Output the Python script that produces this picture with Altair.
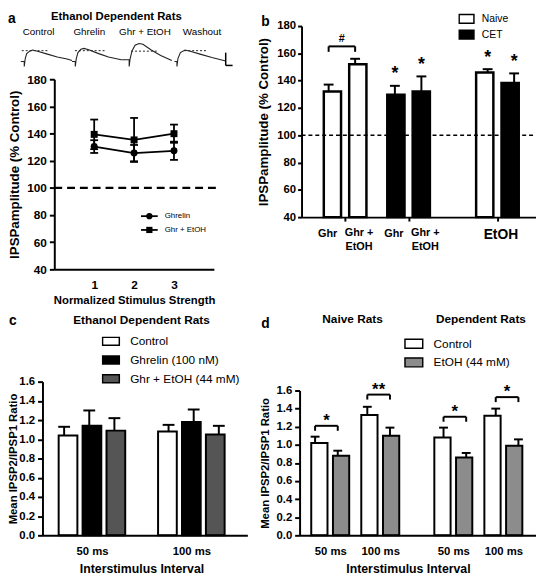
import json
import altair as alt
import pandas as pd

FONT = "Liberation Sans"
W, H = 536, 569

# ======================= DATA =======================
# (a) example IPSP traces: time (ms-like units) and amplitude (arbitrary units)
trace_names = ["Control", "Ghrelin", "Ghr + EtOH", "Washout"]
trace_t = [
    [0, 3.5, 3.5, 4.5, 6, 9, 12, 17, 27, 37, 47, 52],
    [0, 3.3, 3.3, 4.3, 6, 9, 12, 17, 27, 37, 50],
    [0, 8, 8, 9, 11, 14, 18, 22, 30, 40, 51.3],
    [0, 2.5, 2.5, 3.5, 6, 10.7, 16, 26, 38, 52],
]
trace_v = [
    [7, 7, 2, 10, 15, 17.5, 18.7, 17.5, 14.5, 11.5, 9.5, 8],
    [7, 7, 2, 10, 16, 19.5, 20.3, 19, 15, 11.5, 8.7],
    [8.7, 8.7, 2, 10, 18, 23.5, 25.3, 24.5, 19, 13, 8],
    [7, 7, 2, 10, 16, 18.7, 17.5, 14.5, 11, 7.5],
]
trace_ref_level = [18, 18, 17.5, 18]
trace_ref_t = [[1, 27], [3, 35], [10, 37], [10, 33]]
scalebar_t = [52, 59]
scalebar_v = [3, 16]

# (a) IPSP amplitude vs normalized stimulus strength
a_strength = [1, 2, 3]
a_series = ["Ghrelin", "Ghr + EtOH"]
a_mean = [[130.4, 125.6, 127.3], [139.4, 135.3, 139.9]]
a_sem = [[4.7, 6.0, 6.7], [10.9, 16.2, 6.7]]
a_ref = 100
a_yticks = [40, 60, 80, 100, 120, 140, 160, 180]

# (b) IPSP amplitude, naive vs CET
b_groups = ["Naive", "CET"]
b_bar_label = ["Ghr", "Ghr +\nEtOH", "Ghr", "Ghr +\nEtOH", "EtOH", "EtOH"]
b_bar_group = ["Naive", "Naive", "CET", "CET", "Naive", "CET"]
b_mean = [132.1, 152.0, 129.7, 132.1, 146.0, 138.3]
b_sem = [5.0, 4.0, 6.5, 11.0, 2.4, 7.0]
b_star = ["", "", "*", "*", "*", "*"]
b_hash = "#"
b_hash_top = 165.1
b_hash_leg = 161.1

# (c) paired-pulse ratio, dependent rats
c_intervals = ["50 ms", "100 ms"]
c_conditions = ["Control", "Ghrelin (100 nM)", "Ghr + EtOH (44 mM)"]
c_mean = [[1.04, 1.08], [1.14, 1.18], [1.09, 1.05]]
c_sem = [[0.09, 0.07], [0.16, 0.13], [0.13, 0.09]]
c_yticks = [0.0, 0.2, 0.4, 0.6, 0.8, 1.0, 1.2, 1.4, 1.6]

# (d) paired-pulse ratio, naive vs dependent
d_rats = ["Naive Rats", "Dependent Rats"]
d_intervals = ["50 ms", "100 ms"]
d_treat = ["Control", "EtOH (44 mM)"]
d_mean = [[1.02, 1.33, 1.08, 1.32], [0.88, 1.10, 0.86, 0.99]]
d_sem = [[0.07, 0.09, 0.11, 0.08], [0.055, 0.09, 0.05, 0.07]]
d_sig = ["*", "**", "*", "*"]
d_bracket = [1.21, 1.555, 1.31, 1.527]
d_bracket_leg = 0.055

# ======================= LAYOUT =======================
TRACE_X0 = [18, 70, 120, 174]
TRACE_LABEL_DX = [18, 17.5, 24, 28]
B_POS = [0, 1, 2.5, 3.5, 6, 7]
C_STEP = 0.2406
D_RAT_GAP = 2.46
D_STEP = 0.217

AX = dict(domainColor="black", domainWidth=2, tickColor="black", tickWidth=2,
          labelColor="black", labelFont=FONT, labelFontWeight="bold", grid=False,
          titleFont=FONT, titleFontWeight="bold", titleColor="black",
          labelFlush=False, labelOverlap=False, zindex=2)

charts = []


def scales(xdom, xr, ydom, yr):
    sx = dict(domain=xdom, range=xr, nice=False, zero=False)
    sy = dict(domain=ydom, range=yr, nice=False, zero=False)
    X = lambda f, axis=None: alt.X(f, scale=alt.Scale(**sx), axis=axis)
    Y = lambda f, axis=None: alt.Y(f, scale=alt.Scale(**sy), axis=axis)
    return X, Y


def txt(text, x, y, size, weight="bold", align="center", baseline="middle"):
    return alt.Chart(pd.DataFrame({"t": [text]})).mark_text(
        font=FONT, fontSize=size, fontWeight=weight, align=align, baseline=baseline, color="black"
    ).encode(x=alt.value(x), y=alt.value(y), text="t:N")


# ---------------- traces ----------------
rows = []
for name, x0, ts, vs in zip(trace_names, TRACE_X0, trace_t, trace_v):
    for i, (t, v) in enumerate(zip(ts, vs)):
        rows.append({"cond": name, "x": x0 + t, "v": v, "i": i})
tr = pd.DataFrame(rows)
tr_ref = pd.DataFrame({
    "x": [x0 + s[0] for x0, s in zip(TRACE_X0, trace_ref_t)],
    "x2": [x0 + s[1] for x0, s in zip(TRACE_X0, trace_ref_t)],
    "v": trace_ref_level,
})
tr_lab = pd.DataFrame({"cond": trace_names, "x": [x0 + d for x0, d in zip(TRACE_X0, TRACE_LABEL_DX)]})
sb_v = pd.DataFrame({"x": [TRACE_X0[3] + scalebar_t[0]], "v": [scalebar_v[0]], "v2": [scalebar_v[1]]})
sb_h = pd.DataFrame({"x": [TRACE_X0[3] + scalebar_t[0]], "x2": [TRACE_X0[3] + scalebar_t[1]], "v": [scalebar_v[0]]})

TX, TY = scales([0, 240], [-5, 235], [0, 30], [57, 27])
charts += [
    alt.Chart(tr).mark_line(color="#222222", strokeWidth=1.1).encode(
        x=TX("x:Q"), y=TY("v:Q"), detail="cond:N", order="i:Q"),
    alt.Chart(tr_ref).mark_rule(color="#222222", strokeWidth=1, strokeDash=[2, 2]).encode(
        x=TX("x:Q"), x2="x2:Q", y=TY("v:Q")),
    alt.Chart(sb_v).mark_rule(color="black", strokeWidth=1.5).encode(x=TX("x:Q"), y=TY("v:Q"), y2="v2:Q"),
    alt.Chart(sb_h).mark_rule(color="black", strokeWidth=1.5).encode(x=TX("x:Q"), x2="x2:Q", y=TY("v:Q")),
    alt.Chart(tr_lab).mark_text(font=FONT, fontSize=10, color="black").encode(
        x=TX("x:Q"), y=alt.value(20.5), text="cond:N"),
]

# ---------------- panel a ----------------
rows = []
for s, means, sems in zip(a_series, a_mean, a_sem):
    for x, m, e in zip(a_strength, means, sems):
        rows.append({"series": s, "x": x, "mean": m, "lo": m - e, "hi": m + e})
a_df = pd.DataFrame(rows)
AXX, AYY = scales([0, 4], [47, 209], [40, 180], [261, 68])
a_xaxis = alt.Axis(orient="bottom", offset=261 - H, values=a_strength, format="d", tickSize=0,
                   labelPadding=10, labelFontSize=12, title="Normalized Stimulus Strength",
                   titleFontSize=11.5, titleY=32, titleBaseline="middle", **AX)
a_yaxis = alt.Axis(orient="left", offset=-47, values=a_yticks, format="d", tickSize=5,
                   labelPadding=3, labelFontSize=12, title="IPSPamplitude (% Control)",
                   titleFontSize=13.5, titleX=-40, titleBaseline="middle", **AX)
a_dash = pd.DataFrame({"x0": [0], "x1": [4.05], "y": [a_ref]})
shape_sc = dict(domain=a_series, range=["circle", "square"])
charts += [
    alt.Chart(a_dash).mark_rule(color="black", strokeWidth=2.5, strokeDash=[8, 5]).encode(
        x=AXX("x0:Q", a_xaxis), x2="x1:Q", y=AYY("y:Q", a_yaxis)),
    alt.Chart(a_df).mark_rule(color="black", strokeWidth=1.8).encode(
        x=AXX("x:Q"), y=AYY("lo:Q"), y2="hi:Q"),
    alt.Chart(a_df).mark_tick(orient="horizontal", size=8, thickness=1.8, color="black", opacity=1).encode(
        x=AXX("x:Q"), y=AYY("lo:Q")),
    alt.Chart(a_df).mark_tick(orient="horizontal", size=8, thickness=1.8, color="black", opacity=1).encode(
        x=AXX("x:Q"), y=AYY("hi:Q")),
    alt.Chart(a_df).mark_line(color="black", strokeWidth=1.8).encode(
        x=AXX("x:Q"), y=AYY("mean:Q"), detail="series:N"),
    alt.Chart(a_df).mark_point(filled=True, color="black", opacity=1, size=50).encode(
        x=AXX("x:Q"), y=AYY("mean:Q"),
        shape=alt.Shape("series:N", scale=alt.Scale(**shape_sc), legend=None)),
]

leg_a_df = pd.DataFrame({"series": a_series})
ly = lambda: alt.Y("series:N", scale=alt.Scale(type="point", domain=a_series, range=[207, 221], padding=0),
                   axis=None)
charts += [
    alt.Chart(leg_a_df).mark_rule(color="black", strokeWidth=1.8).encode(
        x=alt.value(135), x2=alt.value(152), y=ly()),
    alt.Chart(leg_a_df).mark_point(filled=True, color="black", opacity=1, size=40).encode(
        x=alt.value(143.5), y=ly(), shape=alt.Shape("series:N", scale=alt.Scale(**shape_sc), legend=None)),
    alt.Chart(leg_a_df).mark_text(font=FONT, fontSize=8, align="left", color="black").encode(
        x=alt.value(159), y=ly(), text="series:N"),
]

# ---------------- panel b ----------------
b_df = pd.DataFrame({"label": b_bar_label, "group": b_bar_group, "mean": b_mean,
                     "sem": b_sem, "star": b_star, "pos": B_POS})
b_df["top"] = b_df["mean"] + b_df["sem"]
b_df["star_y"] = b_df["top"] + 4.8
BX, BY = scales([-1.022, 7.825], [298, 536], [40, 180], [208, 14])
b_xaxis = alt.Axis(orient="bottom", offset=208 - H, values=[0.5, 3, 6.5], labels=False, tickSize=4,
                   title=None, **AX)
b_yaxis = alt.Axis(orient="left", offset=-298, values=a_yticks, format="d", tickSize=4,
                   labelPadding=2, labelFontSize=11.5, title="IPSPamplitude (% Control)",
                   titleFontSize=13.5, titleX=-39, titleBaseline="middle", **AX)
b_leg = alt.Legend(orient="none", legendX=457, legendY=-1.3, title=None, direction="vertical",
                   symbolType="M-1,-0.6H1V0.6H-1Z", symbolSize=225, symbolStrokeColor="black",
                   symbolStrokeWidth=1.5, labelFont=FONT, labelFontSize=10.5, labelColor="black",
                   labelOffset=7, clipHeight=16, rowPadding=0, padding=0, symbolOffset=0)
b_br = pd.DataFrame({"x0": [B_POS[0]], "x1": [B_POS[1]], "top": [b_hash_top], "leg": [b_hash_leg],
                     "t": [b_hash], "ty": [b_hash_top + 3.2], "xm": [(B_POS[0] + B_POS[1]) / 2]})
b_legs = pd.DataFrame({"x": [B_POS[0], B_POS[1]], "top": [b_hash_top] * 2, "leg": [b_hash_leg] * 2})
b_dash = pd.DataFrame({"x0": [-1.022], "x1": [7.825], "y": [a_ref]})
b_lab1 = b_df.iloc[[0, 2]]
b_lab2 = b_df.iloc[[1, 3]]
b_etoh = pd.DataFrame({"x": [(B_POS[4] + B_POS[5]) / 2], "t": [b_bar_label[4]]})
charts += [
    alt.Chart(b_df).mark_bar(size=17.5, stroke="black", strokeWidth=2.5, opacity=1).encode(
        x=BX("pos:Q", b_xaxis), y=BY("mean:Q", b_yaxis), y2=alt.datum(40),
        fill=alt.Fill("group:N", scale=alt.Scale(domain=b_groups, range=["white", "black"]), legend=b_leg)),
    alt.Chart(b_dash).mark_rule(color="black", strokeWidth=1.5, strokeDash=[4, 3]).encode(
        x=BX("x0:Q"), x2="x1:Q", y=BY("y:Q")),
    alt.Chart(b_df).mark_rule(color="black", strokeWidth=2).encode(x=BX("pos:Q"), y=BY("mean:Q"), y2="top:Q"),
    alt.Chart(b_df).mark_tick(orient="horizontal", size=10, thickness=2, color="black", opacity=1).encode(
        x=BX("pos:Q"), y=BY("top:Q")),
    alt.Chart(b_df).mark_text(font=FONT, fontSize=18, fontWeight="bold", baseline="alphabetic", color="black").encode(
        x=BX("pos:Q"), y=BY("star_y:Q"), text="star:N"),
    alt.Chart(b_br).mark_rule(color="black", strokeWidth=2).encode(x=BX("x0:Q"), x2="x1:Q", y=BY("top:Q")),
    alt.Chart(b_legs).mark_rule(color="black", strokeWidth=2).encode(x=BX("x:Q"), y=BY("top:Q"), y2="leg:Q"),
    alt.Chart(b_br).mark_text(font=FONT, fontSize=11, fontWeight="bold", baseline="alphabetic", color="black").encode(
        x=BX("xm:Q"), y=BY("ty:Q"), text="t:N"),
    alt.Chart(b_lab1).mark_text(font=FONT, fontSize=11, fontWeight="bold", baseline="top", dx=-1,
                                color="black").encode(x=BX("pos:Q"), y=alt.value(219.5), text="label:N"),
    alt.Chart(b_lab2).mark_text(font=FONT, fontSize=11, fontWeight="bold", baseline="top", lineBreak="\n",
                                lineHeight=14, dx=4, color="black").encode(
        x=BX("pos:Q"), y=alt.value(218), text="label:N"),
    alt.Chart(b_etoh).mark_text(font=FONT, fontSize=14, fontWeight="bold", baseline="middle", color="black").encode(
        x=BX("x:Q"), y=alt.value(226.5), text="t:N"),
]

# ---------------- panel c ----------------
rows = []
for ci, cond in enumerate(c_conditions):
    for ii, iv in enumerate(c_intervals):
        m, e = c_mean[ci][ii], c_sem[ci][ii]
        rows.append({"cond": cond, "interval": iv, "mean": m, "top": m + e, "pos": ii + (ci - 1) * C_STEP})
c_df = pd.DataFrame(rows)
CX, CY = scales([-0.448, 1.514], [35, 243], [0, 1.6], [531, 375])
c_xaxis = alt.Axis(orient="bottom", offset=531 - H, values=[0, 1],
                   labelExpr=json.dumps(c_intervals) + "[round(datum.value)]",
                   tickSize=0, labelPadding=10, labelFontSize=11.5, title="Interstimulus Interval",
                   titleFontSize=12.5, titleX=135.5, titleY=34, titleBaseline="middle", **AX)
c_yaxis = alt.Axis(orient="left", offset=-35, values=c_yticks, format=".1f", tickSize=5, labelPadding=3,
                   labelFontSize=11.5, title="Mean IPSP2/IPSP1 Ratio", titleFontSize=11.5, titleX=-29,
                   titleBaseline="middle", **AX)
c_leg = alt.Legend(orient="none", legendX=95, legendY=324.9, title=None, direction="vertical",
                   symbolType="M-1,-0.47H1V0.47H-1Z", symbolSize=289, symbolStrokeColor="black",
                   symbolStrokeWidth=1.5, labelFont=FONT, labelFontSize=12, labelColor="black",
                   labelOffset=10, clipHeight=18.3, rowPadding=0, padding=0, symbolOffset=0)
charts += [
    alt.Chart(c_df).mark_bar(size=19, stroke="black", strokeWidth=2, opacity=1).encode(
        x=CX("pos:Q", c_xaxis), y=CY("mean:Q", c_yaxis), y2=alt.datum(0),
        fill=alt.Fill("cond:N", scale=alt.Scale(domain=c_conditions, range=["white", "black", "#555555"]),
                      legend=c_leg)),
    alt.Chart(c_df).mark_rule(color="black", strokeWidth=2).encode(x=CX("pos:Q"), y=CY("mean:Q"), y2="top:Q"),
    alt.Chart(c_df).mark_tick(orient="horizontal", size=12, thickness=2, color="black", opacity=1).encode(
        x=CX("pos:Q"), y=CY("top:Q")),
]

# ---------------- panel d ----------------
rows = []
for ti, tname in enumerate(d_treat):
    for k in range(4):
        ri, ii = divmod(k, 2)
        m, e = d_mean[ti][k], d_sem[ti][k]
        rows.append({"treat": tname, "mean": m, "top": m + e,
                     "pos": ri * D_RAT_GAP + ii + (ti - 0.5) * 2 * D_STEP})
d_df = pd.DataFrame(rows)
d_centers = [ri * D_RAT_GAP + ii for ri in range(2) for ii in range(2)]
d_br = pd.DataFrame({"x0": [c - D_STEP for c in d_centers], "x1": [c + D_STEP for c in d_centers],
                     "xm": d_centers, "top": d_bracket, "leg": [b - d_bracket_leg for b in d_bracket],
                     "sig": d_sig})
d_legs = pd.concat([d_br.assign(x=d_br["x0"]), d_br.assign(x=d_br["x1"])])
d_rat_df = pd.DataFrame({"rat": d_rats, "x": [ri * D_RAT_GAP + 0.5 for ri in range(2)]})
DX, DY = scales([-0.514, 4.014], [296, 536], [0, 1.6], [531, 384])
d_xaxis = alt.Axis(orient="bottom", offset=531 - H, values=d_centers,
                   labelExpr=json.dumps(d_intervals * 2) + "[indexof(" + json.dumps(d_centers) + ", datum.value)]",
                   tickSize=0, labelPadding=10, labelFontSize=11.5, title="Interstimulus Interval",
                   titleFontSize=12.5, titleX=406, titleY=34, titleBaseline="middle", **AX)
d_yaxis = alt.Axis(orient="left", offset=-296, values=c_yticks, format=".1f", tickSize=5, labelPadding=3,
                   labelFontSize=11.5, title="Mean IPSP2/IPSP1 Ratio", titleFontSize=11.5, titleX=-35,
                   titleBaseline="middle", **AX)
d_leg = alt.Legend(orient="none", legendX=402, legendY=327, title=None, direction="vertical",
                   symbolType="M-1,-0.5H1V0.5H-1Z", symbolSize=324, symbolStrokeColor="black",
                   symbolStrokeWidth=1.5, labelFont=FONT, labelFontSize=12, labelColor="black",
                   labelOffset=10, clipHeight=19, rowPadding=0, padding=0, symbolOffset=0)
charts += [
    alt.Chart(d_df).mark_bar(size=16.5, stroke="black", strokeWidth=2, opacity=1).encode(
        x=DX("pos:Q", d_xaxis), y=DY("mean:Q", d_yaxis), y2=alt.datum(0),
        fill=alt.Fill("treat:N", scale=alt.Scale(domain=d_treat, range=["white", "#8c8c8c"]), legend=d_leg)),
    alt.Chart(d_df).mark_rule(color="black", strokeWidth=2).encode(x=DX("pos:Q"), y=DY("mean:Q"), y2="top:Q"),
    alt.Chart(d_df).mark_tick(orient="horizontal", size=9, thickness=2, color="black", opacity=1).encode(
        x=DX("pos:Q"), y=DY("top:Q")),
    alt.Chart(d_br).mark_rule(color="black", strokeWidth=2).encode(x=DX("x0:Q"), x2="x1:Q", y=DY("top:Q")),
    alt.Chart(d_legs).mark_rule(color="black", strokeWidth=2).encode(x=DX("x:Q"), y=DY("top:Q"), y2="leg:Q"),
    alt.Chart(d_br).mark_text(font=FONT, fontSize=17, fontWeight="bold", baseline="alphabetic", color="black").encode(
        x=DX("xm:Q"), y=DY("top:Q"), text="sig:N"),
    alt.Chart(d_rat_df).mark_text(font=FONT, fontSize=12, fontWeight="bold", color="black").encode(
        x=DX("x:Q"), y=alt.value(311), text="rat:N"),
]

# ---------------- panel letters & titles ----------------
charts += [
    txt("a", 0, 6.5, 14, align="left"),
    txt("b", 257, 10, 14, align="left"),
    txt("c", 1, 313, 14, align="left"),
    txt("d", 257, 316.5, 14, align="left"),
    txt("Ethanol Dependent  Rats", 110, 5, 11.5),
    txt("Ethanol Dependent  Rats", 135.5, 312, 12),
]

chart = alt.layer(*charts).resolve_scale(
    x="independent", y="independent", fill="independent", shape="independent"
).properties(
    width=W, height=H, autosize=alt.AutoSizeParams(type="none"), padding=0,
    background="white"
).configure(font=FONT).configure_view(stroke=None)

chart.save("out.html", embed_options={"renderer": "svg", "actions": False})
